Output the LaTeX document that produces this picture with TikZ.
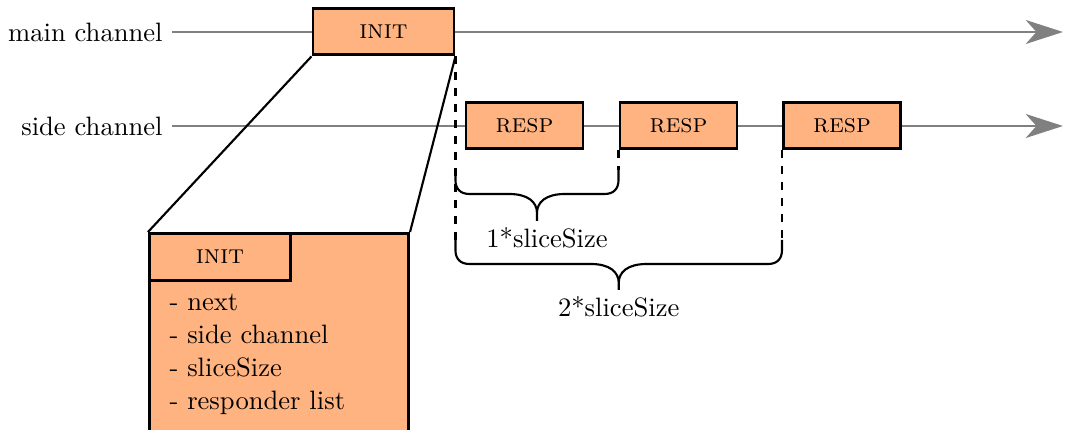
\documentclass[tikz,border=0pt]{standalone}
\usepackage{xcolor}
\usepackage{tikz}
\usetikzlibrary{arrows.meta}
\usetikzlibrary{positioning}
\usetikzlibrary{calc}
\definecolor{msgorange}{RGB}{255,179,128}
\tikzset{
    msg/.style={
           rectangle,
           draw=black, line width=1.1pt,
           fill=msgorange,
           minimum height=17.6pt,
           inner sep=2pt,
           text centered,
           },
    channel/.style={
           draw=gray, thick,
           -{Stealth[length=14pt,width=9pt,inset=4pt]},
           },
    slicebrace/.style={
           thick,
           },
}

\begin{document}
\begin{tikzpicture}[x=0.3759pt,y=-0.3759pt]
	\clip (0,0) rectangle (1065,430);
	\tikzset{initwidth/.style={minimum width=53pt},};
	\tikzset{respwidth/.style={minimum width=44pt},};

	%channels
	\node[anchor=east] (mainlbl) at (172,32) {main channel};
	\node[anchor=east] (sidelbl) at (172,126) {side channel};
	\coordinate (mainend) at (1063,32);
	\coordinate (sideend) at (1063,126);
	\draw[channel] (mainlbl.east) -- (mainend);
	\draw[channel] (sidelbl.east) -- (sideend);

	%messages
	\node[msg, initwidth] (init) at (383.5,31.5) {\textsc{init}};
	\node[msg, respwidth] (resp1) at (524.5,125.5) {\textsc{resp}};
	\node[msg, respwidth] (resp2) at (678.5,125.5) {\textsc{resp}};
	\node[msg, respwidth] (resp3) at (842,125.5) {\textsc{resp}};

	%content of init
	\node[msg, anchor=north west, minimum width=97.4pt, minimum height=90pt] (detail) at (148,232) {};
	\node[msg, initwidth, anchor=north west] (detailhead) at (detail.north west) {\textsc{init}};
	\node[anchor=north west, align=left, inner sep=0pt] (fields) at (169,294)
		{- next\\[0.3pt] - side channel\\[0.3pt] - sliceSize\\[0.3pt] - responder list};
	\draw[thick]	(init.south west) -- (detail.north west)
			(init.south east) -- (detail.north east);

	%slices
	\coordinate (b1l) at (init.south east |- 0,170);
	\coordinate (b1r) at (resp2.south west |- 0,170);
	\coordinate (b2l) at (init.south east |- 0,240);
	\coordinate (b2r) at (resp3.south west |- 0,240);
	\coordinate (b1m) at ($(b1l)!0.5!(b1r)+(0,24)$);
	\coordinate (b2m) at ($(b2l)!0.5!(b2r)+(0,24)$);
	\draw[thick, dashed]	(init.south east) -- (b2l)
				(resp2.south west) -- (b1r)
				(resp3.south west) -- (b2r);
	\draw[slicebrace]
		(b1l) -- ++(0,10) .. controls +(0,9) and +(-9,0) .. ++(14,14) -- ($(b1m)+(-28,0)$)
			.. controls +(19,0) and +(0,-11) .. ++(28,19) -- ++(0,8)
			node[below, inner sep=2pt, xshift=3.8pt] (slice1) {1*sliceSize}
		(b1r) -- ++(0,10) .. controls +(0,9) and +(9,0) .. ++(-14,14) -- ($(b1m)+(28,0)$)
			.. controls +(-19,0) and +(0,-11) .. ++(-28,19) -- ++(0,8);
	\draw[slicebrace]
		(b2l) -- ++(0,10) .. controls +(0,9) and +(-9,0) .. ++(14,14) -- ($(b2m)+(-28,0)$)
			.. controls +(19,0) and +(0,-11) .. ++(28,19) -- ++(0,7)
			node[below, inner sep=2pt] (slice2) {2*sliceSize}
		(b2r) -- ++(0,10) .. controls +(0,9) and +(9,0) .. ++(-14,14) -- ($(b2m)+(28,0)$)
			.. controls +(-19,0) and +(0,-11) .. ++(-28,19) -- ++(0,7);
\end{tikzpicture}
\end{document}
